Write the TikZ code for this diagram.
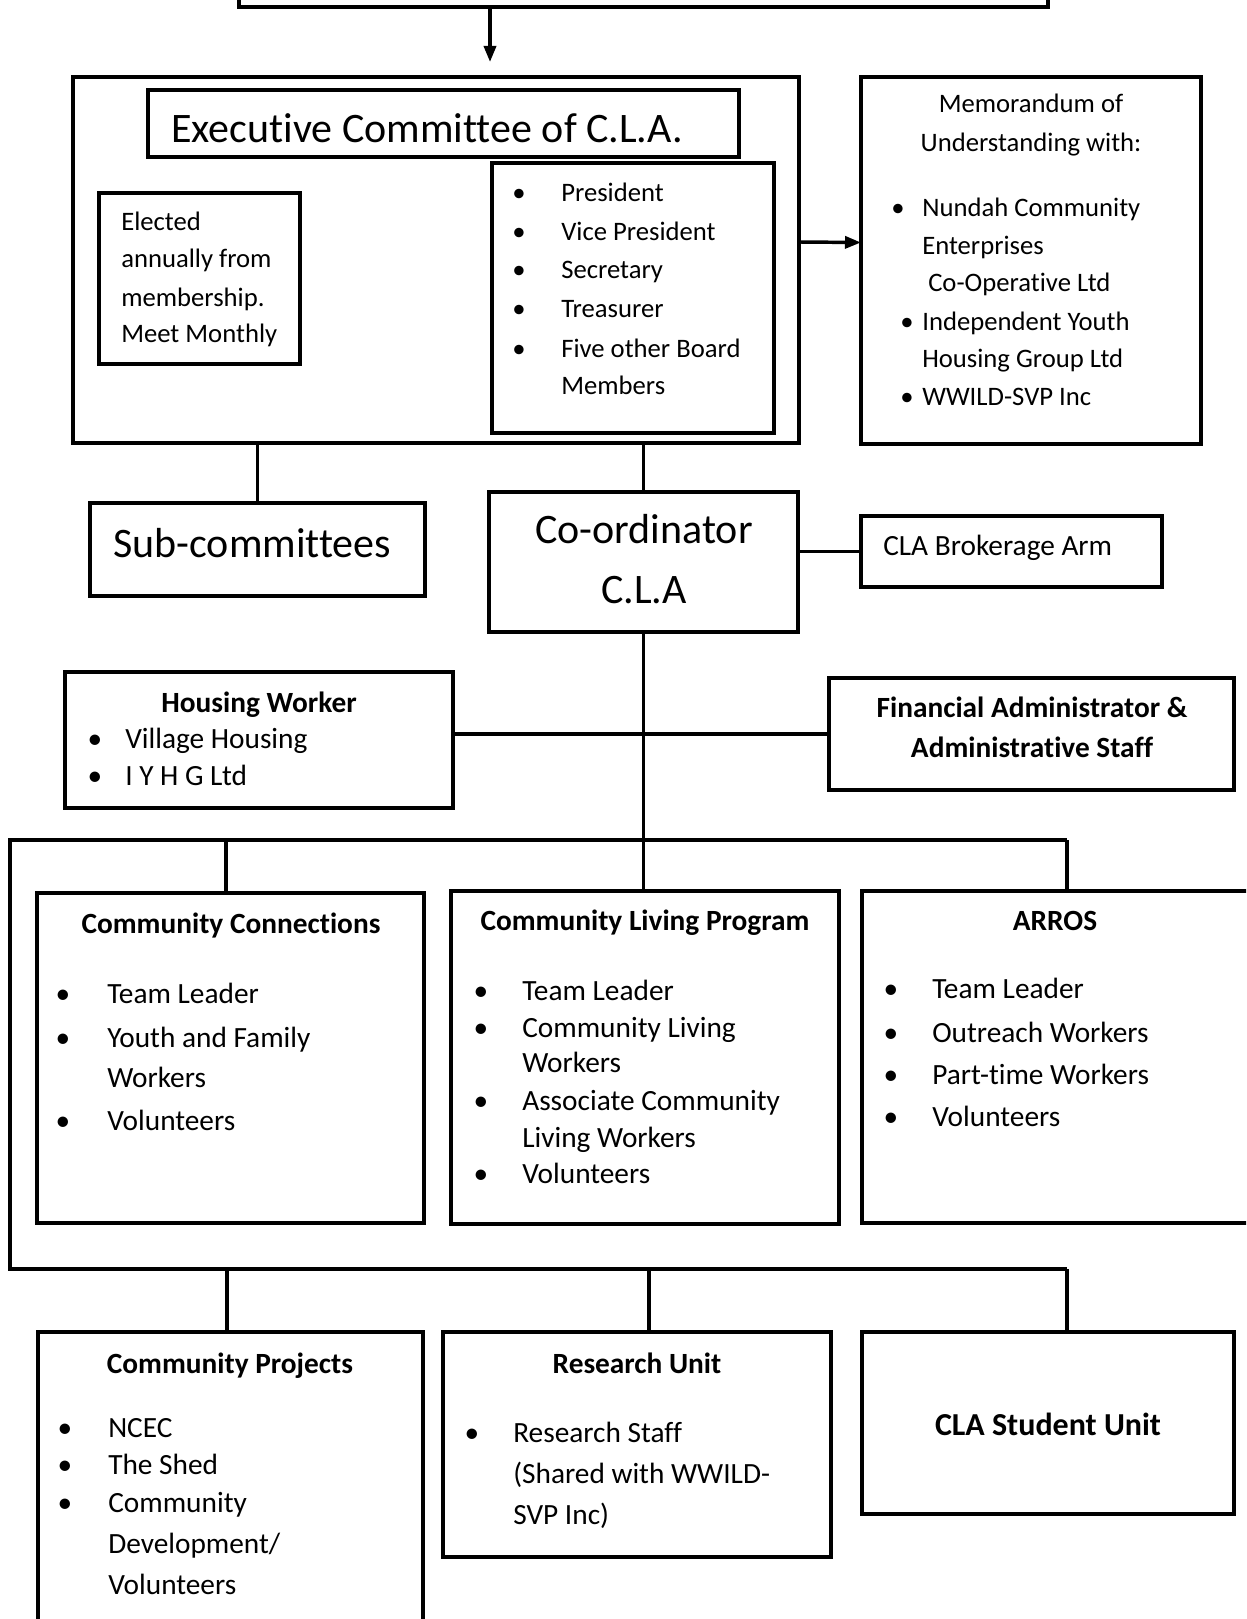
\documentclass[tikz,border=0pt]{standalone}
\usepackage{fontspec}
\setmainfont{Carlito}[Ligatures={NoCommon,NoContextual}]
\usetikzlibrary{fit,arrows.meta}
\begin{document}
\begin{tikzpicture}[x=0.75pt,y=-0.75pt,
  box/.style={draw, line width=2.7pt, inner sep=0pt, outer sep=0pt},
  ln/.style={line width=2.6pt},
  arr/.style={line width=2.6pt, -{Triangle[length=12pt,width=9pt]}},
  t20/.style={inner sep=0pt, font=\fontsize{20}{24}\selectfont},
  t22/.style={inner sep=0pt, font=\fontsize{22}{26}\selectfont},
  b22/.style={inner sep=0pt, font=\bfseries\fontsize{22}{26}\selectfont},
  b24/.style={inner sep=0pt, font=\bfseries\fontsize{24}{28}\selectfont},
  big/.style={inner sep=0pt, font=\fontsize{31.5}{36}\selectfont},
  bl/.style={anchor=base west},
  bc/.style={anchor=base},
]
\useasboundingbox (0,0) rectangle (1246,1619);
\clip (0,0) rectangle (1246,1619);

% ---------- boxes ----------
\node[box, fit={(239,-60)(1048,7)}] (top) {};
\node[box, fit={(73,77)(799,443)}] (exec) {};
\node[box, fit={(148,90)(739,157)}] (titlebox) {};
\node[box, fit={(99,193)(300,364)}] (elected) {};
\node[box, fit={(492,163)(774,433)}] (officers) {};
\node[box, fit={(861,77)(1201,444)}] (memo) {};
\node[box, fit={(90,503)(425,596)}] (sub) {};
\node[box, fit={(489,492)(798,632)}] (coord) {};
\node[box, fit={(861,516)(1162,587)}] (brok) {};
\node[box, fit={(65,672)(453,808)}] (hous) {};
\node[box, fit={(829,678)(1234,790)}] (fin) {};
\node[box, fit={(37,893)(424,1223)}] (cc) {};
\node[box, fit={(451,891)(839,1224)}] (clp) {};
\node[box, fit={(862,891)(1290,1223)}] (arros) {};
\node[box, fit={(38,1332)(423,1700)}] (cp) {};
\node[box, fit={(443,1332)(831,1557)}] (ru) {};
\node[box, fit={(862,1332)(1234,1514)}] (csu) {};

% ---------- connectors ----------
\coordinate (a1) at (490,7);
\coordinate (a2) at (490,62);
\draw[arr] (a1) -- (a2);
\draw[arr] ([yshift=13.5pt]exec.east) -- ([yshift=13.5pt]memo.west);
\draw[ln] (exec.south -| sub.north) -- (sub.north);
\draw[ln] (exec.south -| coord.north) -- (coord.north);
\draw[ln] (brok.west -| coord.east) -- (brok.west);
\draw[ln] (hous.east |- fin.west) -- (fin.west);
\draw[ln] (coord.south) -- (coord.south |- clp.north);

\coordinate (bl1) at (10,840);
\coordinate (br1) at (1067,840);
\coordinate (bl2) at (10,1269);
\coordinate (br2) at (1067,1269);
\draw[ln] (br1) -- (bl1) -- (bl2) -- (br2);
\coordinate (d1) at (226,840);
\draw[ln] (d1) -- (d1 |- cc.north);
\draw[ln] (br1) -- (br1 |- arros.north);
\coordinate (e1) at (227,1269);
\coordinate (e2) at (649,1269);
\draw[ln] (e1) -- (e1 |- cp.north);
\draw[ln] (e2) -- (e2 |- ru.north);
\draw[ln] (br2) -- (br2 |- csu.north);

% ---------- texts ----------
\node[big,bl] (extitle) at (171,143) {Executive Committee of C.L.A.};

\node[t20,bl] (el1) at (121,231) {Elected};
\node[t20,bl] (el2) at (121,268) {annually from};
\node[t20,bl] (el3) at (121,306) {membership.};
\node[t20,bl] (el4) at (121,343) {Meet Monthly};

\node[t20,bc] (ob1) at (519,202) {\textbullet};
\node[t20,bl] (of1) at (561,202) {President};
\node[t20,bc] (ob2) at (519,241) {\textbullet};
\node[t20,bl] (of2) at (561,241) {Vice President};
\node[t20,bc] (ob3) at (519,279) {\textbullet};
\node[t20,bl] (of3) at (561,279) {Secretary};
\node[t20,bc] (ob4) at (519,318) {\textbullet};
\node[t20,bl] (of4) at (561,318) {Treasurer};
\node[t20,bc] (ob5) at (519,357) {\textbullet};
\node[t20,bl] (of5) at (561,357) {Five other Board};
\node[t20,bl] (of6) at (561,394) {Members};

\node[t20,bc] (me1) at (1031,113) {Memorandum of};
\node[t20,bc] (me2) at (1031,152) {Understanding with:};
\node[t20,bc] (mb1) at (898,217) {\textbullet};
\node[t20,bl] (me3) at (922,217) {Nundah Community};
\node[t20,bl] (me4) at (922,255) {Enterprises};
\node[t20,bl] (me5) at (928,292) {Co-Operative Ltd};
\node[t20,bc] (mb2) at (907,330) {\textbullet};
\node[t20,bl] (me6) at (922,330) {Independent Youth};
\node[t20,bl] (me7) at (922,368) {Housing Group Ltd};
\node[t20,bc] (mb3) at (907,405) {\textbullet};
\node[t20,bl] (me8) at (922,405) {WWILD-SVP Inc};

\node[big,bl] (subt) at (113,557) {Sub-committees};
\node[big,bc] (co1) at (644,543) {Co-ordinator};
\node[big,bc] (co2) at (644,603) {C.L.A};
\node[t22,bl] (brt) at (883,555) {CLA Brokerage Arm};

\node[b22,bc] (ho1) at (259,712) {Housing Worker};
\node[t22,bc] (hb1) at (95,748) {\textbullet};
\node[t22,bl] (ho2) at (125,748) {Village Housing};
\node[t22,bc] (hb2) at (95,785) {\textbullet};
\node[t22,bl] (ho3) at (125,785) {I Y H G Ltd};

\node[b22,bc] (fi1) at (1032,717) {Financial Administrator \&};
\node[b22,bc] (fi2) at (1032,757) {Administrative Staff};

\node[b22,bc] (cct) at (231,933) {Community Connections};
\node[t22,bc] (ccb1) at (63,1003) {\textbullet};
\node[t22,bl] (cc1) at (107,1003) {Team Leader};
\node[t22,bc] (ccb2) at (63,1047) {\textbullet};
\node[t22,bl] (cc2) at (107,1047) {Youth and Family};
\node[t22,bl] (cc3) at (107,1087) {Workers};
\node[t22,bc] (ccb3) at (63,1130) {\textbullet};
\node[t22,bl] (cc4) at (107,1130) {Volunteers};

\node[b22,bc] (clpt) at (645,930) {Community Living Program};
\node[t22,bc] (clb1) at (481,1000) {\textbullet};
\node[t22,bl] (cl1) at (522,1000) {Team Leader};
\node[t22,bc] (clb2) at (481,1037) {\textbullet};
\node[t22,bl] (cl2) at (522,1037) {Community Living};
\node[t22,bl] (cl3) at (522,1072) {Workers};
\node[t22,bc] (clb3) at (481,1110) {\textbullet};
\node[t22,bl] (cl4) at (522,1110) {Associate Community};
\node[t22,bl] (cl5) at (522,1147) {Living Workers};
\node[t22,bc] (clb4) at (481,1183) {\textbullet};
\node[t22,bl] (cl6) at (522,1183) {Volunteers};

\node[b22,bc] (art) at (1055,930) {ARROS};
\node[t22,bc] (arb1) at (891,998) {\textbullet};
\node[t22,bl] (ar1) at (932,998) {Team Leader};
\node[t22,bc] (arb2) at (891,1042) {\textbullet};
\node[t22,bl] (ar2) at (932,1042) {Outreach Workers};
\node[t22,bc] (arb3) at (891,1084) {\textbullet};
\node[t22,bl] (ar3) at (932,1084) {Part-time Workers};
\node[t22,bc] (arb4) at (891,1126) {\textbullet};
\node[t22,bl] (ar4) at (932,1126) {Volunteers};

\node[b22,bc] (cpt) at (230,1373) {Community Projects};
\node[t22,bc] (cpb1) at (65,1437) {\textbullet};
\node[t22,bl] (cp1) at (108,1437) {NCEC};
\node[t22,bc] (cpb2) at (65,1474) {\textbullet};
\node[t22,bl] (cp2) at (108,1474) {The Shed};
\node[t22,bc] (cpb3) at (65,1512) {\textbullet};
\node[t22,bl] (cp3) at (108,1512) {Community};
\node[t22,bl] (cp4) at (108,1553) {Development/};
\node[t22,bl] (cp5) at (108,1594) {Volunteers};

\node[b22,bc] (rut) at (637,1373) {Research Unit};
\node[t22,bc] (rub1) at (472,1442) {\textbullet};
\node[t22,bl] (ru1) at (513,1442) {Research Staff};
\node[t22,bl] (ru2) at (513,1483) {(Shared with WWILD-};
\node[t22,bl] (ru3) at (513,1524) {SVP Inc)};

\node[b24,bc] (csut) at (1048,1435) {CLA Student Unit};
\end{tikzpicture}
\end{document}
